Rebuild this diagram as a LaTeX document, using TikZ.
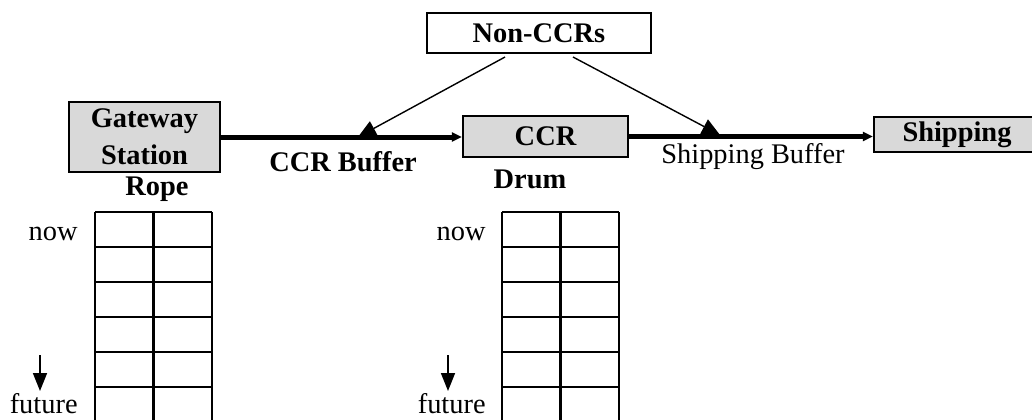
\documentclass[tikz,border=0pt]{standalone}
\usepackage{fontspec}
\setmainfont{Liberation Serif}
\usetikzlibrary{arrows.meta}
\definecolor{boxgray}{RGB}{217,217,217}

\begin{document}
\begin{tikzpicture}[x=0.5pt, y=-0.5pt,
    every node/.style={font=\fontsize{14.2}{18}\selectfont},
    station/.style={draw, line width=1.2pt, fill=boxgray, inner sep=0pt, font=\fontsize{14.2}{18.5}\selectfont\bfseries, align=center},
    flow/.style={line width=2.5pt, -{Triangle[length=5pt, width=4.5pt]}},
    feed/.style={line width=0.7pt, -{Triangle[length=9pt, width=8pt]}},
    cell/.style={line width=1.3pt}]
    \useasboundingbox (0,0) rectangle (1032,419);
    %%%%% STATIONS %%%%%
    \node[station, fill=white, minimum width=112pt, minimum height=20pt] (noncc) at (539, 33) {Non-CCRs};
    \node[station, minimum width=75.5pt, minimum height=35pt] (gw) at (144.5, 137) {Gateway\\Station};
    \node[station, minimum width=82.5pt, minimum height=20.5pt] (ccr) at (545.5, 136.5) {CCR};
    \node[station, minimum width=87.5pt, minimum height=17.5pt, text width=77pt, align=left] (ship) at (961.5, 134.5) {\hspace*{9pt}Shipping};

    %%%%% FLOW %%%%%
    \draw[flow] (gw.east) -- (gw.east -| ccr.west);
    \draw[flow] (ccr.east) -- (ccr.east -| ship.west);

    \coordinate (n1) at (505, 57);
    \coordinate (n2) at (573, 57);
    \coordinate (cb) at (358, 137);
    \coordinate (sb) at (720, 135);
    \draw[feed] (n1) -- (cb);
    \draw[feed] (n2) -- (sb);

    \node[font=\fontsize{14.2}{18}\selectfont\bfseries] (cbuf) at (343, 162) {CCR Buffer};
    \node (sbuf) at (753, 157) {Shipping Buffer};
    \node[font=\fontsize{14.2}{18}\selectfont\bfseries] (rope) at (157, 189) {Rope};
    \node[font=\fontsize{14.2}{18}\selectfont\bfseries] (drum) at (530, 179) {Drum};

    %%%%% SCHEDULES %%%%%
    \foreach \gx/\tx in {95/78, 502/486} {
        \foreach \k in {0,...,5}
            \draw[cell] (\gx, 212+35*\k) -- (\gx+117, 212+35*\k);
        \foreach \vx in {0, 58.5, 117}
            \draw[cell] (\gx+\vx, 212) -- (\gx+\vx, 425);
        \node[anchor=base east, inner sep=0pt] at (\tx, 240) {now};
        \node[anchor=base east, inner sep=0pt] at (\tx, 413) {future};
    }
    \coordinate (a1) at (40, 355);
    \coordinate (a2) at (40, 391);
    \coordinate (b1) at (448, 355);
    \coordinate (b2) at (448, 391);
    \draw[line width=0.8pt, -{Triangle[length=9pt, width=7pt]}] (a1) -- (a2);
    \draw[line width=0.8pt, -{Triangle[length=9pt, width=7pt]}] (b1) -- (b2);
\end{tikzpicture}
\end{document}
